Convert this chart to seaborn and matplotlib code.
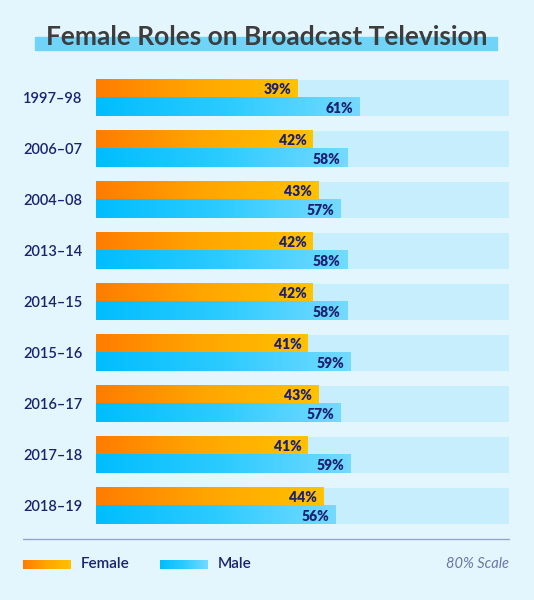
import matplotlib
matplotlib.use('Agg')
import matplotlib.pyplot as plt
import matplotlib.transforms as mtransforms
from matplotlib.colors import LinearSegmentedColormap
import numpy as np
import pandas as pd
import seaborn as sns

years = ['1997–98', '2006–07', '2004–08', '2013–14', '2014–15',
         '2015–16', '2016–17', '2017–18', '2018–19']
female = [39, 42, 43, 42, 42, 41, 43, 41, 44]
male = [61, 58, 57, 58, 58, 59, 57, 59, 56]
# male bars in the original are drawn shorter than their labels; lengths
male_drawn = [51, 48.6, 47.4, 48.6, 48.6, 49.3, 47.4, 49.3, 46.4]
scale_max = 80

BG = '#e3f6fd'
TRACK = '#c6eefc'
NAVY = '#1c2170'
female_cmap = LinearSegmentedColormap.from_list('f', ['#ff7c00', '#ffa600', '#ffc200'])
male_cmap = LinearSegmentedColormap.from_list('m', ['#00bdfd', '#2ccbff', '#74daff'])

sns.set_style('white')
plt.rcParams['font.family'] = ['Lato', 'DejaVu Sans']

df = pd.DataFrame({
    'year': years * 2,
    'sex': ['Female'] * len(years) + ['Male'] * len(years),
    'value': female + male,
    'drawn': female + male_drawn,
})

fig = plt.figure(figsize=(5.34, 6), dpi=100)
fig.patch.set_facecolor(BG)
ax = fig.add_axes([95.7 / 534, 68.5 / 600, 413.3 / 534, 459 / 600])
ax.set_facecolor(BG)

# background track = 80% scale
sns.barplot(x=[scale_max] * len(years), y=years, color=TRACK, width=0.725,
            orient='h', ax=ax, saturation=1, linewidth=0)
n_track = len(ax.patches)

sns.barplot(data=df, x='drawn', y='year', hue='sex', hue_order=['Female', 'Male'],
            orient='h', width=0.725, dodge=True, ax=ax, saturation=1, linewidth=0,
            palette={'Female': '#ffa600', 'Male': '#2ccbff'}, legend=False)

grad = np.linspace(0, 1, 256).reshape(1, -1)
bars = ax.patches[n_track:]
for bar in bars:
    x0, y0 = bar.get_x(), bar.get_y()
    w, h = bar.get_width(), bar.get_height()
    if w <= 0:
        continue
    yc = y0 + h / 2
    i = int(round(yc))
    is_female = yc < i
    cmap = female_cmap if is_female else male_cmap
    ax.imshow(grad, cmap=cmap, extent=(x0, x0 + w, y0 + h, y0), aspect='auto',
              interpolation='bicubic', zorder=3)
    label = female[i] if is_female else male[i]
    ax.text(x0 + w - 1.2, yc + 0.02, f'{label}%', ha='right', va='center',
            fontsize=10, fontweight='heavy', color=NAVY, zorder=4)

ax.set_xlim(0, scale_max)
ax.set_ylim(len(years) - 0.5, -0.5)
ax.axis('off')

# year labels
trans = mtransforms.blended_transform_factory(fig.transFigure, ax.transData)
for i, y in enumerate(years):
    ax.text(23 / 534, i + 0.02, y, transform=trans, ha='left', va='center',
            fontsize=10.5, fontweight='semibold', color=NAVY)

# title with highlight stripe
fig.add_artist(plt.Rectangle((35 / 534, 1 - 49.5 / 600), 462 / 534, 12 / 600,
                             transform=fig.transFigure, color='#6fd4f8', zorder=1))
fig.text(0.5, 1 - 45 / 600, 'Female Roles on Broadcast Television', ha='center',
         va='baseline', fontsize=19, fontweight='bold', color='#3d3d3d', zorder=2)

# separator
fig.add_artist(plt.Line2D([23 / 534, 509 / 534], [1 - 538.5 / 600] * 2,
                          transform=fig.transFigure, color='#9aa2cc', linewidth=1))

# legend
for x_sw, name, cmap in [(23, 'Female', female_cmap), (160, 'Male', male_cmap)]:
    lax = fig.add_axes([x_sw / 534, 1 - 568.5 / 600, 48 / 534, 9 / 600])
    lax.imshow(grad, cmap=cmap, aspect='auto', interpolation='bicubic')
    lax.axis('off')
    fig.text((x_sw + 58) / 534, 1 - 563.5 / 600, name, ha='left', va='center',
             fontsize=11, fontweight='semibold', color=NAVY)

fig.text(509 / 534, 1 - 563.5 / 600, '80% Scale', ha='right', va='center',
         fontsize=10.5, fontstyle='italic', fontweight='normal', color='#6e76a8')

fig.savefig('out.png', dpi=100, facecolor=BG)
